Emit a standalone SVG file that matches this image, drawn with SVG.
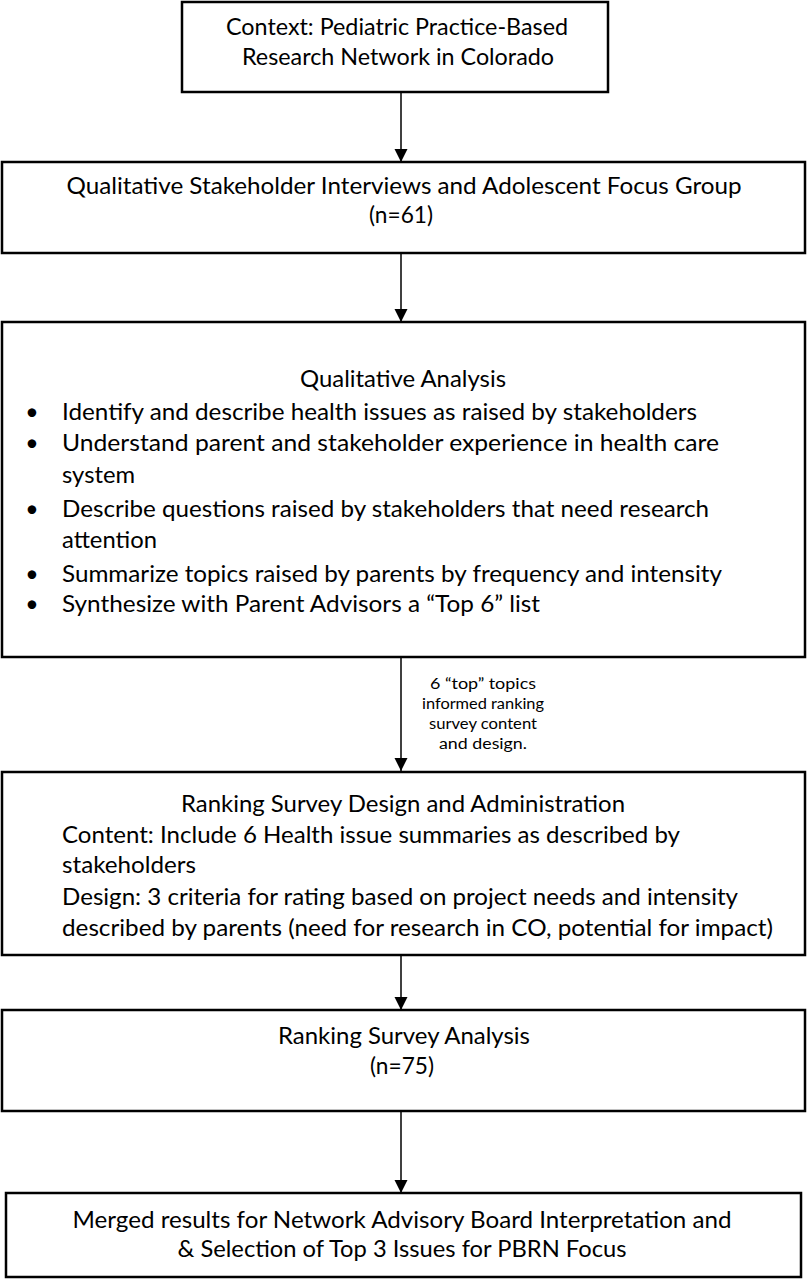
<svg xmlns="http://www.w3.org/2000/svg" width="807" height="1280" viewBox="0 0 807 1280">
<style>
  .box { fill: #ffffff; stroke: #000000; stroke-width: 2.5; }
  .t { font-family: Lato, "Open Sans", sans-serif; font-size: 23px; fill: #000000; }
  .c { text-anchor: middle; }
  .lbl { font-family: Lato, "Open Sans", sans-serif; font-size: 15.5px; fill: #000000; text-anchor: middle; }
  .conn { stroke: #000000; stroke-width: 1.5; fill: none; }
</style>
<defs>
  <marker id="arrow" markerUnits="userSpaceOnUse" markerWidth="14" markerHeight="14" refX="13" refY="6.5" orient="auto">
    <path d="M0,0 L13,6.5 L0,13 Z" fill="#000000"/>
  </marker>
</defs>
<rect x="0" y="0" width="807" height="1280" fill="#ffffff"/>

<g id="connectors">
  <line class="conn" x1="401" y1="92" x2="401" y2="162" marker-end="url(#arrow)"/>
  <line class="conn" x1="401" y1="253" x2="401" y2="322" marker-end="url(#arrow)"/>
  <line class="conn" x1="401" y1="657" x2="401" y2="771" marker-end="url(#arrow)"/>
  <line class="conn" x1="401" y1="955" x2="401" y2="1010" marker-end="url(#arrow)"/>
  <line class="conn" x1="401" y1="1111" x2="401" y2="1193" marker-end="url(#arrow)"/>
  <g id="edge-label">
    <text class="lbl" x="483" y="689" textLength="106" lengthAdjust="spacingAndGlyphs">6 “top” topics</text>
    <text class="lbl" x="483" y="709" textLength="122" lengthAdjust="spacingAndGlyphs">informed ranking</text>
    <text class="lbl" x="483" y="729" textLength="108" lengthAdjust="spacingAndGlyphs">survey content</text>
    <text class="lbl" x="483" y="749" textLength="88" lengthAdjust="spacingAndGlyphs">and design.</text>
  </g>
</g>

<g id="node-context">
  <rect class="box" x="182" y="2" width="426" height="90"/>
  <text class="t c" x="397" y="35" textLength="342" lengthAdjust="spacingAndGlyphs">Context: Pediatric Practice-Based</text>
  <text class="t c" x="398" y="65" textLength="312" lengthAdjust="spacingAndGlyphs">Research Network in Colorado</text>
</g>

<g id="node-interviews">
  <rect class="box" x="2" y="162" width="803" height="91"/>
  <text class="t c" x="404" y="194" textLength="675" lengthAdjust="spacingAndGlyphs">Qualitative Stakeholder Interviews and Adolescent Focus Group</text>
  <text class="t c" x="401" y="223" textLength="64" lengthAdjust="spacingAndGlyphs">(n=61)</text>
</g>

<g id="node-analysis">
  <rect class="box" x="2" y="322" width="803" height="335"/>
  <text class="t c" x="403" y="387" textLength="206" lengthAdjust="spacingAndGlyphs">Qualitative Analysis</text>
  <text x="32" y="420" class="t c">•</text>
  <text x="62" y="420" class="t" textLength="635" lengthAdjust="spacingAndGlyphs">Identify and describe health issues as raised by stakeholders</text>
  <text x="32" y="451" class="t c">•</text>
  <text x="62" y="451" class="t" textLength="657" lengthAdjust="spacingAndGlyphs">Understand parent and stakeholder experience in health care</text>
  <text x="62" y="483" class="t" textLength="73" lengthAdjust="spacingAndGlyphs">system</text>
  <text x="32" y="517" class="t c">•</text>
  <text x="62" y="517" class="t" textLength="647" lengthAdjust="spacingAndGlyphs">Describe questions raised by stakeholders that need research</text>
  <text x="62" y="548" class="t" textLength="95" lengthAdjust="spacingAndGlyphs">attention</text>
  <text x="32" y="582" class="t c">•</text>
  <text x="62" y="582" class="t" textLength="660" lengthAdjust="spacingAndGlyphs">Summarize topics raised by parents by frequency and intensity</text>
  <text x="32" y="612" class="t c">•</text>
  <text x="62" y="612" class="t" textLength="478" lengthAdjust="spacingAndGlyphs">Synthesize with Parent Advisors a “Top 6” list</text>
</g>

<g id="node-survey-design">
  <rect class="box" x="2" y="772" width="803" height="183"/>
  <text class="t c" x="403" y="812" textLength="444" lengthAdjust="spacingAndGlyphs">Ranking Survey Design and Administration</text>
  <text class="t" x="62" y="843" textLength="618" lengthAdjust="spacingAndGlyphs">Content: Include 6 Health issue summaries as described by</text>
  <text class="t" x="62" y="873" textLength="134" lengthAdjust="spacingAndGlyphs">stakeholders</text>
  <text class="t" x="62" y="905" textLength="676" lengthAdjust="spacingAndGlyphs">Design: 3 criteria for rating based on project needs and intensity</text>
  <text class="t" x="62" y="936" textLength="711" lengthAdjust="spacingAndGlyphs">described by parents (need for research in CO, potential for impact)</text>
</g>

<g id="node-survey-analysis">
  <rect class="box" x="2" y="1010" width="803" height="101"/>
  <text class="t c" x="404" y="1044" textLength="252" lengthAdjust="spacingAndGlyphs">Ranking Survey Analysis</text>
  <text class="t c" x="402" y="1074" textLength="64" lengthAdjust="spacingAndGlyphs">(n=75)</text>
</g>

<g id="node-merged">
  <rect class="box" x="6" y="1193" width="795" height="84"/>
  <text class="t c" x="402" y="1228" textLength="659" lengthAdjust="spacingAndGlyphs">Merged results for Network Advisory Board Interpretation and</text>
  <text class="t c" x="402" y="1257" textLength="449" lengthAdjust="spacingAndGlyphs">&amp; Selection of Top 3 Issues for PBRN Focus</text>
</g>
</svg>
